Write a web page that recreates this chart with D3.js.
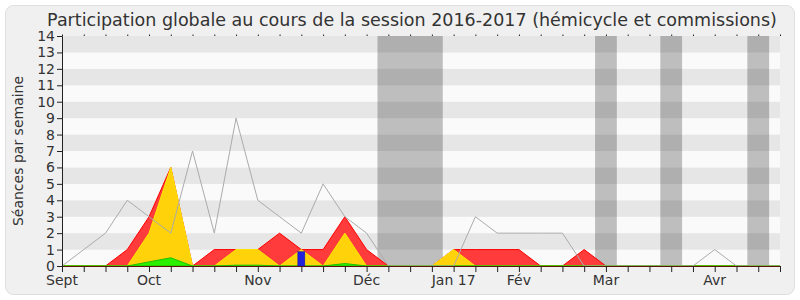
<!DOCTYPE html>
<html>
<head>
<meta charset="utf-8">
<script src="https://cdn.jsdelivr.net/npm/d3@7"></script>
<style>
  body { margin: 0; background: #fff; }
  text { font-family: "DejaVu Sans", sans-serif; fill: #333; }
</style>
</head>
<body>
<div id="chart"></div>
<script>
// one value per week, Sept 2016 -> Apr 2017 (34 weeks)
const weeks = d3.range(34);
const monthTicks = [0, 4, 9, 14, 18, 21, 25, 30];
const monthLabels = ["Sept", "Oct", "Nov", "Déc", "Jan 17", "Fév", "Mar", "Avr"];
const yTicks = d3.range(0, 15);

// stacked layers (bottom to top)
const greenVals  = [0,0,0,0,0.25,0.5,0,0,0.05,0.05,0,0,0,0.15,0,0,0,0,0,0,0,0,0,0,0,0,0,0,0,0,0,0,0,0];
const yellowVals = [0,0,0,0,1.75,5.5,0,0,0.95,0.95,0,1,0,1.85,0,0,0,0,1,0,0,0,0,0,0,0,0,0,0,0,0,0,0,0];
const redVals    = [0,0,0,1,1,0,0,1,0,0,2,0,1,1,1,0,0,0,0,1,1,1,0,0,1,0,0,0,0,0,0,0,0,0];
// gray line: total activity of all deputies (median)
const totalVals  = [0,1,2,4,3,2,7,2,9,4,3,2,5,3,2,0,0,0,0,3,2,2,2,2,0,0,0,0,0,0,1,0,0,0];
// blue bars
const blueVals   = [0,0,0,0,0,0,0,0,0,0,0,0.87,0,0,0,0,0,0,0,0,0,0,0,0,0,0,0,0,0,0,0,0,0,0];
// holidays (week ranges)
const vacances = [[14.5, 17.5], [24.5, 25.5], [27.5, 28.5], [31.5, 32.5]];

const width = 800, height = 300;
const margin = { top: 36, right: 20, bottom: 34, left: 62 };

const svg = d3.select("#chart").append("svg")
  .attr("width", width).attr("height", height);

svg.append("rect")
  .attr("x", 5.5).attr("y", 5.5)
  .attr("width", 789).attr("height", 289)
  .attr("rx", 8)
  .attr("fill", "#f0f0f0")
  .attr("stroke", "#dedede");

const x = d3.scaleLinear().domain([0, 33]).range([margin.left, width - margin.right]);
const y = d3.scaleLinear().domain([0, 14]).range([height - margin.bottom, margin.top]);

// striped background
svg.append("g").selectAll("rect")
  .data(d3.range(0, 14))
  .enter().append("rect")
  .attr("x", x(0)).attr("width", x(33) - x(0))
  .attr("y", (d) => y(d + 1)).attr("height", (d) => y(d) - y(d + 1))
  .attr("fill", (d) => (d % 2 ? "#e6e6e6" : "#fafafa"));

// holidays
svg.append("g").selectAll("rect")
  .data(vacances)
  .enter().append("rect")
  .attr("x", (d) => x(d[0])).attr("width", (d) => x(d[1]) - x(d[0]))
  .attr("y", y(14)).attr("height", y(0) - y(14))
  .attr("fill", "rgba(0,0,0,0.24)");

// stacked areas
const table = weeks.map((i) => ({ i, green: greenVals[i], yellow: yellowVals[i], red: redVals[i] }));
const keys = ["green", "yellow", "red"];
const stack = d3.stack().keys(keys)(table);
const fills = { green: "#2bf000", yellow: "#ffd20a", red: "#ff3b3b" };
const strokes = { green: "#1cc000", yellow: "#ffea00", red: "#ff0000" };

const area = d3.area()
  .x((d) => x(d.data.i))
  .y0((d) => y(d[0]))
  .y1((d) => y(d[1]));

svg.append("g").selectAll("path")
  .data(stack.slice().reverse())
  .enter().append("path")
  .attr("d", (s) => {
    // area drawn from 0 to the top of the layer, lower layers cover it
    return d3.area().x((d) => x(d.data.i)).y0(y(0)).y1((d) => y(d[1]))(s);
  })
  .attr("fill", (s) => fills[s.key])
  .attr("stroke", (s) => strokes[s.key])
  .attr("stroke-width", 1);

// blue bars
svg.append("g").selectAll("rect")
  .data(weeks.filter((i) => blueVals[i] > 0))
  .enter().append("rect")
  .attr("x", (i) => x(i) - 3.5).attr("width", 7)
  .attr("y", (i) => y(blueVals[i])).attr("height", (i) => y(0) - y(blueVals[i]))
  .attr("fill", "#2222dd")
  .attr("stroke", "#1a1aa0")
  .attr("stroke-width", 0.5);

// gray total line
svg.append("path")
  .datum(weeks)
  .attr("fill", "none")
  .attr("stroke", "#ababab")
  .attr("stroke-width", 1)
  .attr("d", d3.line().x((i) => x(i)).y((i) => y(totalVals[i])));

// axes
const xAxis = svg.append("g")
  .attr("transform", `translate(0, ${y(0)})`)
  .call(d3.axisBottom(x).tickValues(weeks).tickSize(6).tickFormat(() => ""));
xAxis.select(".domain").attr("stroke", "#5a1408");
xAxis.selectAll(".tick line").attr("stroke", "#222");

svg.append("g")
  .attr("transform", `translate(0, ${y(14)})`)
  .call(d3.axisTop(x).tickValues(weeks).tickSize(1.5).tickFormat(() => ""))
  .call((g) => g.select(".domain").remove())
  .selectAll(".tick line").attr("stroke", "#222");

svg.append("g").selectAll("text")
  .data(monthTicks)
  .enter().append("text")
  .attr("x", (d) => x(d)).attr("y", 285)
  .attr("text-anchor", "middle")
  .style("font-size", "14px")
  .text((d, i) => monthLabels[i]);

const yAxis = svg.append("g")
  .attr("transform", `translate(${x(0)}, 0)`)
  .call(d3.axisLeft(y).tickValues(yTicks).tickSize(5).tickPadding(2));
yAxis.select(".domain").attr("stroke", "#222");
yAxis.selectAll(".tick line").attr("stroke", "#222");
yAxis.selectAll("text")
  .style("font-family", "DejaVu Sans, sans-serif")
  .style("font-size", "14px")
  .attr("fill", "#333");

svg.append("text")
  .attr("transform", `translate(23, ${(y(0) + y(14)) / 2}) rotate(-90)`)
  .attr("text-anchor", "middle")
  .style("font-size", "14px")
  .text("Séances par semaine");

svg.append("text")
  .attr("x", 412).attr("y", 26)
  .attr("text-anchor", "middle")
  .style("font-size", "17.5px")
  .text("Participation globale au cours de la session 2016-2017 (hémicycle et commissions)");
</script>
</body>
</html>
